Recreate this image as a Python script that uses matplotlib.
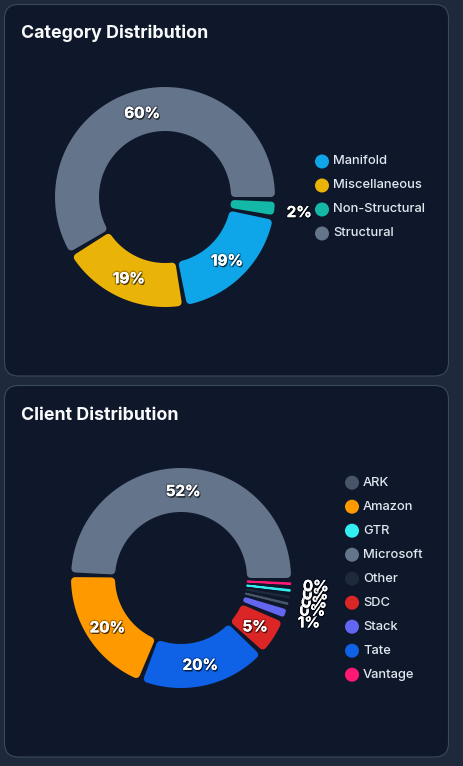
"""Category / client distribution donut cards."""

import matplotlib
matplotlib.use("Agg")

import numpy as np
import matplotlib.pyplot as plt
import matplotlib.patheffects as pe
from matplotlib.patches import Circle, FancyBboxPatch, Polygon

W, H, DPI = 463, 766, 100

PAGE_BG = "#1e293b"
CARD_BG = "#0f172a"
CARD_EDGE = "#3b4960"
TITLE_COLOR = "#f8fafc"
LEGEND_TEXT = "#e2e8f0"

# chart data (slices drawn counter-clockwise from 3 o'clock, largest first)
category_names = ["Structural", "Miscellaneous", "Manifold", "Non-Structural"]
category_values = [60.0, 19.0, 19.0, 2.0]
category_colors = ["#64748b", "#eab308", "#0ea5e9", "#14b8a6"]
category_legend = ["Manifold", "Miscellaneous", "Non-Structural", "Structural"]

client_names = ["Microsoft", "Amazon", "Tate", "SDC", "Stack", "ARK", "Other", "GTR", "Vantage"]
client_values = [52.4, 20.0, 19.6, 5.4, 1.3, 0.3, 0.3, 0.3, 0.3]
client_colors = ["#64748b", "#ff9900", "#0f62e6", "#dc2626", "#6366f1",
                 "#475569", "#1e293b", "#33eef0", "#ff1874"]
client_legend = ["ARK", "Amazon", "GTR", "Microsoft", "Other", "SDC", "Stack", "Tate", "Vantage"]

plt.rcParams["font.family"] = ["Inter", "DejaVu Sans"]

PAD_ANGLE = 2.5
R_OUT, R_IN = 110, 66

label_fx = [pe.SimplePatchShadow(offset=(0.8, -1.2), shadow_rgbFace="black", alpha=0.6),
            pe.withStroke(linewidth=2.0, foreground=(0, 0, 0, 0.25)),
            pe.Normal()]


def slice_angles(values, pad=PAD_ANGLE, start=0.0):
    total = sum(values)
    avail = 360.0 - pad * len(values)
    spans = []
    a = start
    for v in values:
        span = avail * v / total
        spans.append((a, a + span))
        a += span + pad
    return spans


def draw_slice(ax, cx, cy, a1, a2, color, corner=4.0):
    t1, t2 = np.radians(a1), np.radians(a2)
    c = min(corner, 0.45 * (t2 - t1) * R_IN, 0.45 * (R_OUT - R_IN))
    ro, ri = R_OUT - c, R_IN + c
    to = np.linspace(t1 + c / ro, t2 - c / ro, 80)
    ti = np.linspace(t2 - c / ri, t1 + c / ri, 80)
    xs = np.r_[cx + ro * np.cos(to), cx + ri * np.cos(ti)]
    ys = np.r_[cy - ro * np.sin(to), cy - ri * np.sin(ti)]
    lw = max(2 * c * 72 / DPI, 1.3)
    ax.add_patch(Polygon(np.c_[xs, ys], closed=True, facecolor=color, edgecolor=color,
                         linewidth=lw, joinstyle="round"))


def draw_card(ax, top, bottom, title):
    ax.add_patch(FancyBboxPatch((4.5, top), 444, bottom - top,
                                boxstyle="round,pad=0,rounding_size=14",
                                facecolor=CARD_BG, edgecolor=CARD_EDGE, linewidth=0.8))
    ax.text(21, top + 34, title, color=TITLE_COLOR, fontsize=12.8, fontweight="bold",
            ha="left", va="baseline")


def draw_donut(ax, cx, cy, names, values, colors):
    total = sum(values)
    for (a1, a2), name, v, col in zip(slice_angles(values), names, values, colors):
        draw_slice(ax, cx, cy, a1, a2, col)
        pct = v / total * 100
        mid = np.radians((a1 + a2) / 2)
        rad = (R_OUT + R_IN) / 2 if pct >= 3 else R_OUT + 25
        ax.text(cx + rad * np.cos(mid), cy - rad * np.sin(mid), f"{round(pct)}%",
                color="white", fontsize=11, fontweight="bold", ha="center",
                va="center_baseline", path_effects=label_fx, zorder=5)


def draw_legend(ax, x, y0, labels, names, colors):
    lookup = dict(zip(names, colors))
    for i, lab in enumerate(labels):
        y = y0 + 24 * i
        ax.add_patch(Circle((x, y), 7, facecolor=lookup[lab], edgecolor="none"))
        ax.text(x + 11, y, lab, color=LEGEND_TEXT, fontsize=9.3, fontweight="medium",
                ha="left", va="center")


fig = plt.figure(figsize=(W / DPI, H / DPI), dpi=DPI, facecolor=PAGE_BG)
ax = fig.add_axes([0, 0, 1, 1])
ax.set_xlim(0, W)
ax.set_ylim(H, 0)
ax.set_aspect("equal")
ax.axis("off")

draw_card(ax, 4.5, 376, "Category Distribution")
draw_donut(ax, 165, 197, category_names, category_values, category_colors)
draw_legend(ax, 322, 161.5, category_legend, category_names, category_colors)

draw_card(ax, 385.5, 757, "Client Distribution")
draw_donut(ax, 181, 578, client_names, client_values, client_colors)
draw_legend(ax, 352, 482.7, client_legend, client_names, client_colors)

fig.savefig("out.png", dpi=DPI, facecolor=PAGE_BG)
